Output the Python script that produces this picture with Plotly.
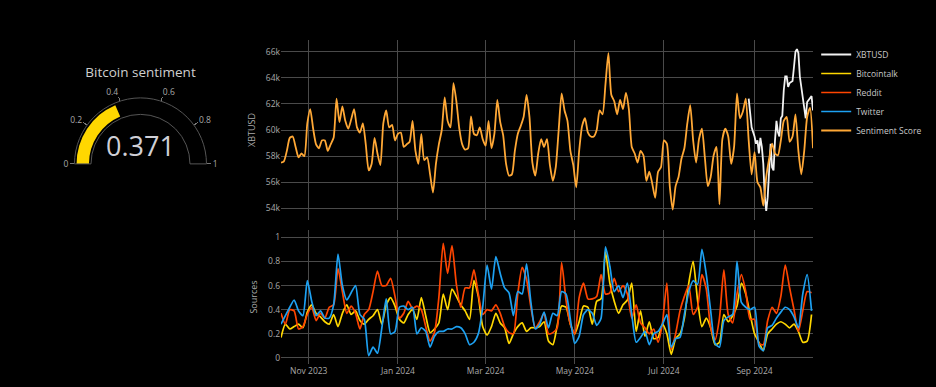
import pandas as pd
import plotly.graph_objects as go

# ---------------- data ----------------
score_start = "2023-10-13"          # sentiment score, one value every 2 days (price-axis scale, k USD)
sentiment_score_k = [
    57.5, 57.6, 58.4, 59.4, 59.5, 58.7, 57.9, 58.2, 58.0, 60.5,
    61.6, 60.1, 58.9, 58.6, 59.2, 59.2, 58.4, 58.9, 59.4, 62.4,
    60.6, 61.8, 60.7, 60.1, 60.8, 61.6, 60.2, 59.8, 60.5, 58.9,
    56.9, 57.4, 59.4, 58.2, 57.3, 60.5, 61.5, 60.2, 60.4, 59.2,
    59.7, 59.8, 58.7, 58.9, 59.1, 60.7, 58.4, 57.4, 59.7, 57.7,
    57.9, 56.6, 55.2, 57.4, 58.9, 60.0, 62.5, 60.7, 60.2, 63.6,
    62.2, 60.1, 58.9, 58.5, 58.6, 61.05, 59.7, 59.6, 60.2, 59.3,
    58.8, 60.7, 58.6, 59.7, 62.3, 60.6, 59.6, 57.4, 56.5, 56.6,
    58.4, 59.7, 60.3, 61.0, 62.7, 61.0, 57.5, 56.5, 58.2, 59.3,
    58.7, 59.3, 57.3, 56.1, 57.15, 60.0, 62.8, 61.5, 60.7, 58.4,
    57.3, 55.6, 58.4, 60.3, 60.9, 59.8, 59.5, 59.5, 60.0, 61.5,
    61.2, 63.5, 65.9, 62.7, 62.2, 61.2, 62.3, 61.6, 62.85, 61.6,
    58.7, 58.2, 57.5, 58.4, 58.05, 56.1, 56.8, 55.9, 54.8, 56.8,
    57.15, 59.2, 58.95, 55.7, 53.9, 55.7, 56.4, 57.8, 58.6, 60.5,
    61.9, 59.2, 57.5, 59.3, 60.1, 57.9, 55.7, 56.4, 58.05, 58.7,
    54.3, 59.3, 60.1, 59.5, 57.4, 58.7, 62.8, 60.9, 61.4, 62.4,
    59.2, 56.6, 58.3, 56.0, 55.6, 54.2, 56.4, 57.8, 58.95, 58.2,
    58.05, 59.2, 60.7, 61.0, 59.1, 59.5, 61.2, 58.4, 56.6, 58.4,
    61.0, 61.7, 58.6,
]

xbt_start = "2024-08-28"            # XBTUSD daily close, k USD
xbtusd_k = [
    62.4, 61.0, 60.2, 59.85, 59.5, 58.95, 59.2, 58.2, 59.4, 58.7,
    57.4, 54.85, 53.8, 54.85, 57.4, 58.95, 57.15, 56.9, 59.2, 60.7,
    59.85, 59.5, 60.9, 61.1, 63.05, 64.1, 64.1, 63.3, 63.6, 63.7,
    63.75, 64.85, 66.0, 66.2, 65.9, 64.1, 63.3, 62.4, 61.5, 60.9,
    62.15, 62.3, 62.5, 62.6, 61.5,
]

src_start = "2023-10-13"            # source sentiment, one value every 3 days
bitcointalk = [
    0.17, 0.28, 0.24, 0.26, 0.28, 0.25, 0.38, 0.44, 0.37, 0.34,
    0.30, 0.28, 0.36, 0.26, 0.37, 0.44, 0.36, 0.39, 0.31, 0.28,
    0.32, 0.35, 0.40, 0.28, 0.44, 0.50, 0.43, 0.32, 0.29, 0.36,
    0.40, 0.32, 0.50, 0.35, 0.21, 0.24, 0.29, 0.53, 0.40, 0.57,
    0.51, 0.44, 0.39, 0.32, 0.64, 0.51, 0.26, 0.19, 0.26, 0.37,
    0.29, 0.25, 0.12, 0.20, 0.26, 0.29, 0.22, 0.25, 0.25, 0.26,
    0.30, 0.14, 0.11, 0.27, 0.43, 0.42, 0.28, 0.20, 0.30, 0.43,
    0.42, 0.28, 0.47, 0.49, 0.88, 0.62, 0.47, 0.37, 0.44, 0.48,
    0.62, 0.22, 0.39, 0.18, 0.30, 0.16, 0.17, 0.28, 0.20, 0.03,
    0.16, 0.20, 0.33, 0.62, 0.80, 0.48, 0.26, 0.33, 0.25, 0.11,
    0.13, 0.36, 0.30, 0.35, 0.43, 0.62, 0.53, 0.36, 0.20, 0.13,
    0.06, 0.20, 0.24, 0.28, 0.30, 0.28, 0.25, 0.28, 0.22, 0.13,
    0.14, 0.36,
]
reddit = [
    0.37, 0.28, 0.40, 0.39, 0.24, 0.26, 0.36, 0.42, 0.31, 0.37,
    0.33, 0.42, 0.44, 0.74, 0.55, 0.37, 0.43, 0.37, 0.24, 0.36,
    0.40, 0.55, 0.72, 0.60, 0.60, 0.66, 0.51, 0.33, 0.37, 0.47,
    0.41, 0.43, 0.40, 0.26, 0.14, 0.21, 0.50, 0.95, 0.70, 0.93,
    0.61, 0.42, 0.58, 0.58, 0.73, 0.53, 0.36, 0.40, 0.39, 0.44,
    0.37, 0.26, 0.21, 0.20, 0.53, 0.75, 0.65, 0.42, 0.25, 0.30,
    0.37, 0.20, 0.21, 0.25, 0.79, 0.48, 0.28, 0.20, 0.50, 0.62,
    0.49, 0.49, 0.51, 0.69, 0.53, 0.54, 0.66, 0.55, 0.60, 0.53,
    0.33, 0.44, 0.29, 0.25, 0.20, 0.24, 0.13, 0.29, 0.62, 0.07,
    0.20, 0.39, 0.51, 0.60, 0.36, 0.42, 0.69, 0.57, 0.25, 0.15,
    0.33, 0.73, 0.36, 0.29, 0.53, 0.69, 0.55, 0.32, 0.32, 0.12,
    0.11, 0.31, 0.42, 0.37, 0.51, 0.77, 0.58, 0.40, 0.22, 0.39,
    0.55, 0.54,
]
twitter = [
    0.28, 0.35, 0.42, 0.48, 0.39, 0.35, 0.64, 0.47, 0.35, 0.39,
    0.33, 0.33, 0.44, 0.86, 0.60, 0.48, 0.54, 0.60, 0.36, 0.32,
    0.02, 0.09, 0.04, 0.25, 0.49, 0.20, 0.22, 0.42, 0.43, 0.40,
    0.42, 0.20, 0.25, 0.22, 0.09, 0.18, 0.22, 0.22, 0.24, 0.24,
    0.26, 0.25, 0.20, 0.11, 0.13, 0.20, 0.42, 0.77, 0.57, 0.84,
    0.70, 0.58, 0.54, 0.35, 0.55, 0.53, 0.78, 0.46, 0.24, 0.28,
    0.38, 0.25, 0.37, 0.35, 0.55, 0.53, 0.32, 0.12, 0.18, 0.36,
    0.40, 0.37, 0.27, 0.33, 0.92, 0.76, 0.55, 0.60, 0.50, 0.62,
    0.36, 0.13, 0.17, 0.22, 0.11, 0.20, 0.22, 0.28, 0.36, 0.09,
    0.16, 0.17, 0.36, 0.55, 0.64, 0.61, 0.90, 0.69, 0.39, 0.12,
    0.09, 0.31, 0.34, 0.36, 0.80, 0.46, 0.42, 0.40, 0.42, 0.10,
    0.06, 0.25, 0.27, 0.33, 0.38, 0.42, 0.40, 0.34, 0.25, 0.53,
    0.69, 0.39,
]

gauge_value = 0.371
gauge_ticks = [0, 0.2, 0.4, 0.6, 0.8, 1]
price_ticks = [54000, 56000, 58000, 60000, 62000, 64000, 66000]
price_tick_labels = ["54k", "56k", "58k", "60k", "62k", "64k", "66k"]
source_ticks = [0, 0.2, 0.4, 0.6, 0.8, 1]
source_tick_labels = ["0", "0.2", "0.4", "0.6", "0.8", "1"]

# ---------------- derived x values ----------------
score_dates = pd.date_range(score_start, periods=len(sentiment_score_k), freq="2D")
xbt_dates = pd.date_range(xbt_start, periods=len(xbtusd_k), freq="D")
src_dates = pd.date_range(src_start, periods=len(twitter), freq="3D")

GRID = "#4a4a4a"
TICK = "#a9a9a9"
FONT = "Open Sans"

fig = go.Figure()

fig.add_trace(go.Scatter(x=xbt_dates, y=[v * 1000 for v in xbtusd_k], name="XBTUSD",
                         mode="lines", line=dict(color="#f2f2f2", width=1.8),
                         xaxis="x", yaxis="y"))
fig.add_trace(go.Scatter(x=src_dates, y=bitcointalk, name="Bitcointalk", mode="lines",
                         line=dict(color="#FFD700", width=1.7, shape="spline", smoothing=0.6),
                         xaxis="x2", yaxis="y2"))
fig.add_trace(go.Scatter(x=src_dates, y=reddit, name="Reddit", mode="lines",
                         line=dict(color="#FF4500", width=1.7, shape="spline", smoothing=0.6),
                         xaxis="x2", yaxis="y2"))
fig.add_trace(go.Scatter(x=src_dates, y=twitter, name="Twitter", mode="lines",
                         line=dict(color="#1DA1F2", width=1.7, shape="spline", smoothing=0.6),
                         xaxis="x2", yaxis="y2"))
fig.add_trace(go.Scatter(x=score_dates, y=[v * 1000 for v in sentiment_score_k], name="Sentiment Score",
                         mode="lines", line=dict(color="#FFA836", width=1.8, shape="spline", smoothing=0.6),
                         xaxis="x", yaxis="y"))

fig.add_trace(go.Indicator(
    mode="gauge+number",
    value=gauge_value,
    title=dict(text="Bitcoin sentiment", font=dict(size=13.5, color="#cfcfcf", family=FONT)),
    number=dict(font=dict(size=27, color="#cfcfd6", family=FONT), valueformat=".3f"),
    gauge=dict(
        axis=dict(range=[0, 1], tickvals=gauge_ticks, ticktext=[f"{t:g}" for t in gauge_ticks],
                  tickfont=dict(size=8.5, color=TICK, family=FONT), ticks="outside",
                  ticklen=4, tickwidth=1, tickcolor="#777"),
        bar=dict(color="#FFD700", thickness=0.75),
        bgcolor="black",
        bordercolor="#555",
        borderwidth=1,
    ),
    domain=dict(x=[0.0796, 0.2206], y=[0.565, 0.874]),
))

xdom = [281 / 936, 813 / 936]
xr = ["2023-10-13", "2024-10-11"]
fig.update_layout(
    width=936, height=387,
    margin=dict(l=0, r=0, t=40, b=23),
    paper_bgcolor="black", plot_bgcolor="black",
    font=dict(family=FONT, color=TICK, size=8.5),
    showlegend=True,
    legend=dict(x=0.872, y=1.0, xanchor="left", yanchor="top", bgcolor="rgba(0,0,0,0)",
                font=dict(size=8.5, color="#c8c8c8", family=FONT), tracegroupgap=0),
    xaxis=dict(domain=xdom, anchor="y", range=xr, matches="x2", showticklabels=False,
               showgrid=True, gridcolor=GRID, gridwidth=1, dtick="M2", tick0="2023-11-01",
               zeroline=False, showline=False),
    yaxis=dict(domain=[(364 - 220) / 324, 1.0], anchor="x", range=[53100, 66900],
               tickvals=price_ticks, ticktext=price_tick_labels, showgrid=True, gridcolor=GRID,
               zeroline=False, title=dict(text="XBTUSD", font=dict(size=9, color=TICK), standoff=8),
               tickfont=dict(size=8.5, color=TICK)),
    xaxis2=dict(domain=xdom, anchor="y2", range=xr, showgrid=True, gridcolor=GRID, gridwidth=1,
                dtick="M2", tick0="2023-11-01", tickformat="%b %Y", zeroline=False,
                tickfont=dict(size=8.5, color=TICK)),
    yaxis2=dict(domain=[0, (364 - 230) / 324], anchor="x2", range=[-0.05, 1.06],
                tickvals=source_ticks, ticktext=source_tick_labels, showgrid=True, gridcolor=GRID,
                zeroline=False, title=dict(text="Sources", font=dict(size=9, color=TICK), standoff=8),
                tickfont=dict(size=8.5, color=TICK)),
)

fig.write_html("out.html",
               config={"displayModeBar": False},
               post_script="document.body.style.margin='0';document.body.style.background='black';")
